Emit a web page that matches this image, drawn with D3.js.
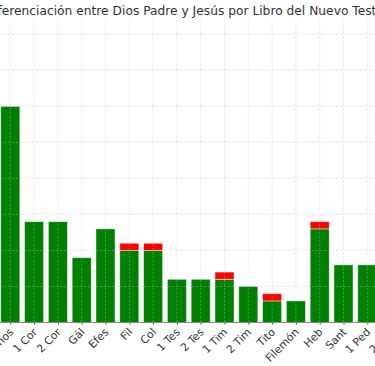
<!DOCTYPE html>
<html><head><meta charset="utf-8">
<script src="https://cdn.jsdelivr.net/npm/d3@7"></script>
<style>body{margin:0;background:#fff;overflow:hidden}svg{display:block}</style>
</head><body>
<svg id="c" width="375" height="366"></svg>
<script>
const books = ["Romanos","1 Cor","2 Cor","Gál","Efes","Fil","Col","1 Tes","2 Tes","1 Tim","2 Tim","Tito","Filemón","Heb","Sant","1 Ped","2 Ped"];
const padreValues = [30,14,14,9,13,10,10,6,6,6,5,3,3,13,8,8,null];
const jesusValues = [0,0,0,0,0,1,1,0,0,1,0,1,0,1,0,0,null];
const yTicks = [0,5,10,15,20,25,30,35,40];
const title = "Diferenciación entre Dios Padre y Jesús por Libro del Nuevo Testamento";

const svg = d3.select("#c");
const font = "DejaVu Sans, sans-serif";
const x = d3.scalePoint().domain(books).range([10.3, 10.3 + 16*23.8]);
const bw = 23.8*0.8;
const y = d3.scaleLinear().domain([0,42]).range([322.5,20]);

const data = books.map((b,i)=>({b, g:padreValues[i], r:jesusValues[i]})).filter(d=>d.g!=null);

// bars
svg.append("g").selectAll("rect.g").data(data).join("rect")
  .attr("x", d=>x(d.b)-bw/2).attr("width", bw)
  .attr("y", d=>y(d.g)).attr("height", d=>y(0)-y(d.g))
  .attr("fill","#008000").attr("stroke","rgba(255,255,255,0.55)").attr("stroke-width",0.8);
svg.append("g").selectAll("rect.r").data(data.filter(d=>d.r>0)).join("rect")
  .attr("x", d=>x(d.b)-bw/2).attr("width", bw)
  .attr("y", d=>y(d.g+d.r)).attr("height", d=>y(d.g)-y(d.g+d.r))
  .attr("fill","#ff0000").attr("stroke","rgba(255,255,255,0.55)").attr("stroke-width",0.8);

// grid (drawn on top)
const grid = svg.append("g").attr("stroke","rgba(190,190,190,0.45)").attr("stroke-width",0.8).attr("stroke-dasharray","2.5,1.5");
grid.selectAll("line.h").data(yTicks.filter(t=>t>0)).join("line")
  .attr("x1",0).attr("x2",375).attr("y1",d=>y(d)).attr("y2",d=>y(d));
grid.selectAll("line.v").data(books).join("line")
  .attr("x1",d=>x(d)).attr("x2",d=>x(d)).attr("y1",y(42)).attr("y2",y(0));

// x axis
const xa = svg.append("g").attr("transform",`translate(0,${y(0)})`)
  .call(d3.axisBottom(x).tickSize(2).tickPadding(4));
xa.select(".domain").remove();
xa.append("line").attr("x1",0).attr("x2",375).attr("stroke","#888").attr("stroke-width",1.2);
xa.selectAll(".tick line").attr("stroke","#333");
xa.selectAll(".tick text")
  .attr("font-family",font).attr("font-size",10.8).attr("fill","#333")
  .attr("text-anchor","end").attr("dy",0)
  .attr("transform","translate(-1,6) rotate(-45)");

// title
svg.append("text").attr("x",204).attr("y",15).attr("text-anchor","middle")
  .attr("font-family",font).attr("font-size",12.25).attr("fill","#333").text(title);
</script>
</body></html>
